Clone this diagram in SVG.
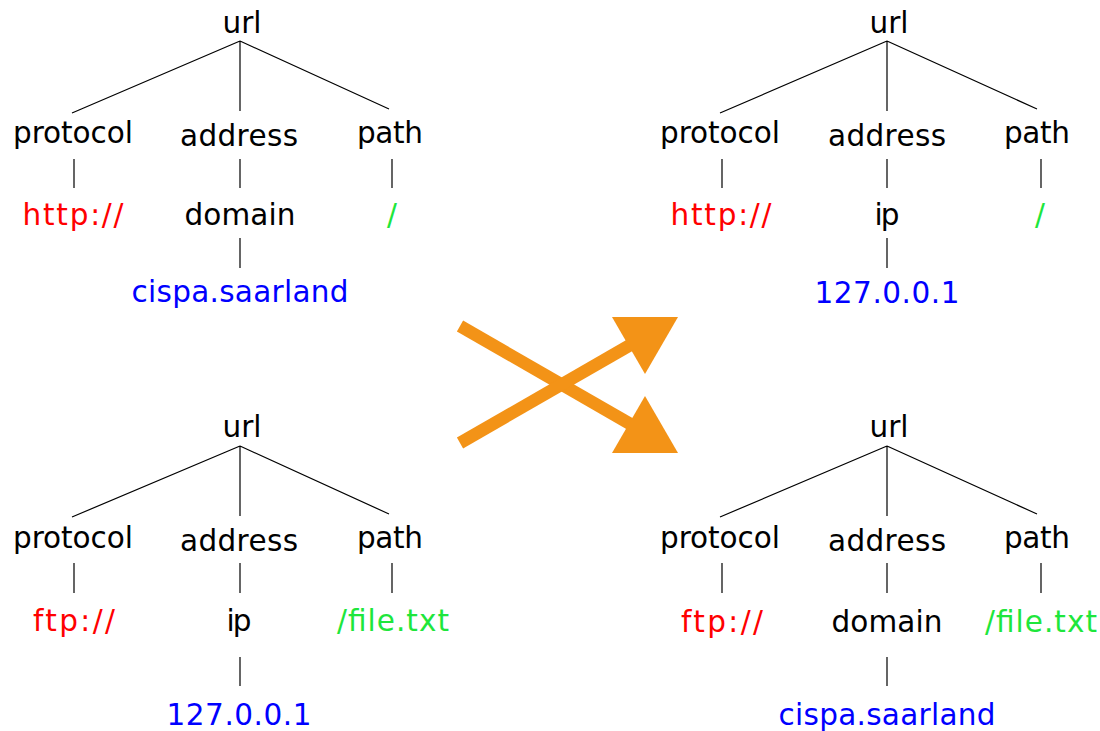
<svg xmlns="http://www.w3.org/2000/svg" width="1100" height="731" viewBox="0 0 1100 731">
  <style>
    text { font-family: "DejaVu Sans", Verdana, sans-serif; font-size: 29.5px; text-anchor: middle; fill: #000; }
    .proto { fill: #ff0000; }
    .path { fill: #1ee63c; }
    .host { fill: #0000ff; }
    .edge { stroke: #000; stroke-width: 1.2; fill: none; }
    .swap { stroke: #f39317; stroke-width: 12.5; fill: none; }
    .head { fill: #f39317; }
  </style>
  <rect width="1100" height="731" fill="#fff"/>

  <!-- tree edges -->
  <g id="connectors">
    <!-- top-left -->
    <path class="edge" d="M240 41 L72 113 M240 41 V111 M240 41 L389 109 M74 159 V188 M240 159 V188 M392 159 V188 M240 238 V268"/>
    <!-- top-right -->
    <path class="edge" d="M887 41 L720 113 M887 41 V111 M887 41 L1037 109 M722 159 V188 M887 159 V188 M1041 159 V188 M887 238 V268"/>
    <!-- bottom-left -->
    <path class="edge" d="M240 446 L72 517 M240 446 V516 M240 446 L389 514 M74 563 V593 M240 563 V593 M392 563 V593 M240 657 V686"/>
    <!-- bottom-right -->
    <path class="edge" d="M887 446 L720 517 M887 446 V516 M887 446 L1037 514 M722 563 V593 M887 563 V593 M1041 563 V593 M887 657 V686"/>
  </g>

  <!-- crossing arrows -->
  <g id="swap-arrows">
    <path class="swap" d="M460 326 L632 425"/>
    <polygon class="head" points="612,453 678,453 645,396"/>
    <path class="swap" d="M460 443 L632 344"/>
    <polygon class="head" points="612,317 678,317 645,374"/>
  </g>

  <!-- top-left tree: http://cispa.saarland/ -->
  <g id="tree-tl">
    <text id="tl-url" x="242" y="33" textLength="39">url</text>
    <text id="tl-protocol" x="73" y="143" textLength="120">protocol</text>
    <text id="tl-address" x="239" y="146" textLength="118">address</text>
    <text id="tl-path" x="390" y="143" textLength="66">path</text>
    <text id="tl-proto-val" class="proto" x="73" y="225" textLength="101">http://</text>
    <text id="tl-domain" x="240" y="225" textLength="111">domain</text>
    <text id="tl-path-val" class="path" x="392" y="225">/</text>
    <text id="tl-host" class="host" x="240" y="302" textLength="217">cispa.saarland</text>
  </g>

  <!-- top-right tree: http://127.0.0.1/ -->
  <g id="tree-tr">
    <text id="tr-url" x="889" y="33" textLength="39">url</text>
    <text id="tr-protocol" x="720" y="143" textLength="120">protocol</text>
    <text id="tr-address" x="887" y="146" textLength="118">address</text>
    <text id="tr-path" x="1037" y="143" textLength="66">path</text>
    <text id="tr-proto-val" class="proto" x="721" y="225" textLength="101">http://</text>
    <text id="tr-ip" x="887" y="225" textLength="25">ip</text>
    <text id="tr-path-val" class="path" x="1040" y="225">/</text>
    <text id="tr-host" class="host" x="887" y="303" textLength="145">127.0.0.1</text>
  </g>

  <!-- bottom-left tree: ftp://127.0.0.1/file.txt -->
  <g id="tree-bl">
    <text id="bl-url" x="242" y="437" textLength="39">url</text>
    <text id="bl-protocol" x="73" y="548" textLength="120">protocol</text>
    <text id="bl-address" x="239" y="551" textLength="118">address</text>
    <text id="bl-path" x="390" y="548" textLength="66">path</text>
    <text id="bl-proto-val" class="proto" x="74" y="631" textLength="82">ftp://</text>
    <text id="bl-ip" x="239" y="631" textLength="25">ip</text>
    <text id="bl-path-val" class="path" x="393" y="631" textLength="112">/file.txt</text>
    <text id="bl-host" class="host" x="239" y="725" textLength="145">127.0.0.1</text>
  </g>

  <!-- bottom-right tree: ftp://cispa.saarland/file.txt -->
  <g id="tree-br">
    <text id="br-url" x="889" y="437" textLength="39">url</text>
    <text id="br-protocol" x="720" y="548" textLength="120">protocol</text>
    <text id="br-address" x="887" y="551" textLength="118">address</text>
    <text id="br-path" x="1037" y="548" textLength="66">path</text>
    <text id="br-proto-val" class="proto" x="722" y="632" textLength="82">ftp://</text>
    <text id="br-domain" x="887" y="632" textLength="111">domain</text>
    <text id="br-path-val" class="path" x="1041" y="632" textLength="112">/file.txt</text>
    <text id="br-host" class="host" x="887" y="725" textLength="217">cispa.saarland</text>
  </g>
</svg>
